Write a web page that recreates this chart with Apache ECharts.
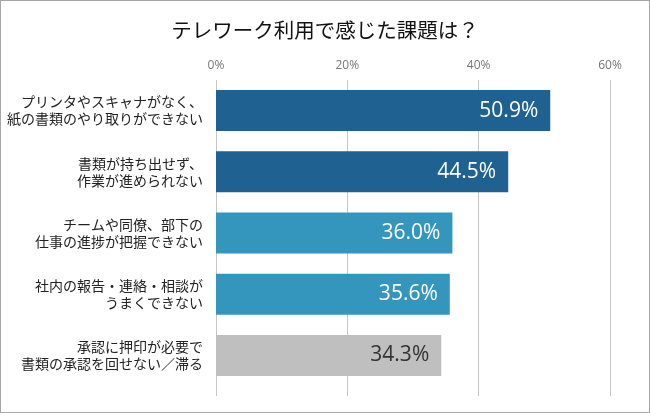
<!DOCTYPE html>
<html lang="ja">
<head>
    <meta charset="UTF-8">
    <title>テレワーク利用で感じた課題は？</title>
    <script src="https://cdn.jsdelivr.net/npm/echarts@6/dist/echarts.min.js"></script>
    <style>
        html, body { margin: 0; padding: 0; background: #fff; }
        #chart { width: 650px; height: 413px; box-sizing: border-box; border: 1px solid #a6a6a6; }
    </style>
</head>
<body>
<div id="chart"></div>
<script>
    // 項目（上から順）
    const categories = [
        'プリンタやスキャナがなく、\n紙の書類のやり取りができない',
        '書類が持ち出せず、\n作業が進められない',
        'チームや同僚、部下の\n仕事の進捗が把握できない',
        '社内の報告・連絡・相談が\nうまくできない',
        '承認に押印が必要で\n書類の承認を回せない／滞る'
    ];
    const values = [50.9, 44.5, 36.0, 35.6, 34.3];
    const barColors = ['#1f6191', '#1f6191', '#3596bd', '#3596bd', '#bfbfbf'];
    const labelColors = ['#fff', '#fff', '#fff', '#fff', '#333'];

    const chart = echarts.init(document.getElementById('chart'));

    const option = {
        animation: false,
        title: {
            text: 'テレワーク利用で感じた課題は？',
            left: 'center',
            top: 14,
            textStyle: {
                fontFamily: 'Noto Sans CJK JP',
                fontSize: 20.5,
                fontWeight: 'normal',
                color: '#111'
            }
        },
        // grid 0: 棒, grid 1: 目盛線だけ（少し下まで伸ばす）
        grid: [
            { left: 215, right: 39, top: 79, bottom: 26 },
            { left: 215, right: 39, top: 79, bottom: 16 }
        ],
        xAxis: [{
            type: 'value',
            gridIndex: 0,
            position: 'top',
            min: 0,
            max: 60,
            interval: 20,
            axisLine: { show: false },
            axisTick: { show: false },
            axisLabel: {
                formatter: '{value}%',
                color: '#777',
                fontFamily: 'Open Sans',
                fontSize: 12,
                margin: 8
            },
            splitLine: { show: false }
        }, {
            type: 'value',
            gridIndex: 1,
            min: 0,
            max: 60,
            interval: 20,
            axisLine: { show: false },
            axisTick: { show: false },
            axisLabel: { show: false },
            splitLine: { lineStyle: { color: '#c6c6c6', width: 1 } }
        }],
        yAxis: [{
            type: 'category',
            gridIndex: 0,
            inverse: true,
            data: categories,
            axisLine: { show: false },
            axisTick: { show: false },
            axisLabel: {
                color: '#222',
                fontFamily: 'Noto Sans CJK JP',
                fontSize: 14,
                lineHeight: 17,
                margin: 13,
                align: 'right'
            }
        }, {
            type: 'category',
            gridIndex: 1,
            data: [],
            show: false
        }],
        series: [{
            type: 'bar',
            xAxisIndex: 0,
            yAxisIndex: 0,
            barWidth: 41,
            z: 3,
            data: values.map((v, i) => ({
                value: v,
                itemStyle: { color: barColors[i] },
                label: { color: labelColors[i] }
            })),
            label: {
                show: true,
                position: 'insideRight',
                distance: 12,
                formatter: p => p.value.toFixed(1) + '%',
                fontFamily: 'Open Sans',
                fontSize: 21
            }
        }]
    };

    chart.setOption(option);
</script>
</body>
</html>
